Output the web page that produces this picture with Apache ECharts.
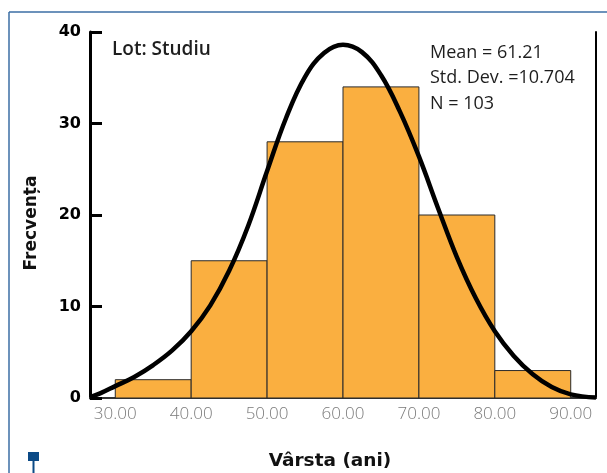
<!DOCTYPE html>
<html>
<head>
<meta charset="utf-8">
<script src="https://cdn.jsdelivr.net/npm/echarts@6/dist/echarts.min.js"></script>
<style>
	html, body { margin: 0; padding: 0; background: #fff; }
	#main { width: 607px; height: 473px; }
</style>
</head>
<body>
<div id="main"></div>
<script>
// histograma: limitele claselor si frecventele
var binStart = [30, 40, 50, 60, 70, 80];
var binEnd = [40, 50, 60, 70, 80, 90];
var binCount = [2, 15, 28, 34, 20, 3];
// curba normala (varsta, frecventa)
var curveX = [26.67, 28, 30, 32.5, 35, 37.5, 40, 42.5, 45, 47.5, 50, 52.5, 55, 57.5, 60, 62.5, 65, 67.5, 70, 72.5, 75, 77.5, 80, 82.5, 85, 87.5, 90, 93.33];
var curveY = [0.1, 0.5, 1.3, 2.3, 3.6, 5.2, 7.3, 10.1, 13.9, 18.8, 24.8, 30.6, 35.1, 37.7, 38.6, 37.8, 35.3, 31.3, 26.4, 20.8, 15.4, 10.9, 7.3, 4.6, 2.6, 1.2, 0.4, 0.05];
var xTicks = [30, 40, 50, 60, 70, 80, 90];
var statsText = ['Mean = 61.21', 'Std. Dev. =10.704', 'N = 103'];

var chart = {};

init();

function init() {
	var dom = document.getElementById('main');
	chart = echarts.init(dom, null, { renderer: 'canvas' });

	var bins = [];
	for (var i = 0; i < binStart.length; i++) {
		bins.push([binStart[i], binEnd[i], binCount[i]]);
	}
	var curve = [];
	for (var j = 0; j < curveX.length; j++) {
		curve.push([curveX[j], curveY[j]]);
	}

	var option = {
		animation: false,
		textStyle: { fontFamily: '"Open Sans", "Noto Sans", sans-serif' },
		title: [
			{
				text: 'Lot: Studiu',
				left: 107, top: 35,
				textStyle: { fontSize: 19, fontWeight: 600, color: '#1e1e1e' }
			},
			{
				text: statsText.join('\n'),
				left: 425, top: 35,
				textStyle: { fontSize: 18, fontWeight: 400, color: '#1e1e1e', lineHeight: 25.5 }
			},
			{
				text: 'Vârsta (ani)',
				left: 325, top: 447, textAlign: 'center',
				textStyle: { fontSize: 18.5, fontWeight: 'bold', color: '#111', fontFamily: '"DejaVu Sans", sans-serif' }
			}
		],
		grid: { left: 90, right: 11, top: 32, bottom: 75 },
		xAxis: {
			type: 'value',
			min: 26.67,
			max: 93.33,
			splitLine: { show: false },
			axisTick: { show: false },
			axisLine: { lineStyle: { color: '#333', width: 2 } },
			axisLabel: {
				customValues: xTicks,
				formatter: function (v) { return v.toFixed(2); },
				color: '#7a7a7a',
				fontSize: 17,
				fontWeight: 300,
				margin: 8
			}
		},
		yAxis: [
			{
				type: 'value',
				min: 0, max: 40, interval: 10,
				name: 'Frecvența',
				nameLocation: 'middle',
				nameGap: 50,
				nameTextStyle: { fontSize: 17, fontWeight: 'bold', color: '#111', fontFamily: '"DejaVu Sans", sans-serif', padding: [0, 16, 0, 0] },
				splitLine: { show: false },
				axisLine: { show: true, lineStyle: { color: '#000', width: 3 } },
				axisTick: { show: true, inside: true, length: 12, lineStyle: { color: '#000', width: 3 } },
				axisLabel: { color: '#000', fontSize: 16, fontWeight: 'bold', margin: 9, fontFamily: '"DejaVu Sans", sans-serif' }
			},
			{
				type: 'value',
				position: 'right',
				min: 0, max: 40,
				splitLine: { show: false },
				axisLine: { show: true, lineStyle: { color: '#000', width: 2 } },
				axisTick: { show: false },
				axisLabel: { show: false }
			}
		],
		graphic: [
			{ type: 'line', shape: { x1: 9, y1: 12, x2: 607, y2: 12 }, style: { stroke: '#3b6ea5', lineWidth: 1.5 } },
			{ type: 'line', shape: { x1: 9, y1: 12, x2: 9, y2: 473 }, style: { stroke: '#3b6ea5', lineWidth: 1.5 } },
			{ type: 'rect', shape: { x: 28, y: 452, width: 11, height: 9 }, style: { fill: '#0b4a86' } },
			{ type: 'line', shape: { x1: 33.5, y1: 460, x2: 33.5, y2: 473 }, style: { stroke: '#0b4a86', lineWidth: 2 } }
		],
		series: [
			{
				name: 'histograma',
				type: 'custom',
				renderItem: function (params, api) {
					var p0 = api.coord([api.value(0), 0]);
					var p1 = api.coord([api.value(1), api.value(2)]);
					return {
						type: 'rect',
						shape: { x: p0[0], y: p1[1], width: p1[0] - p0[0], height: p0[1] - p1[1] },
						style: { fill: '#FAAF40', stroke: '#2a2a2a', lineWidth: 1 }
					};
				},
				encode: { x: [0, 1], y: 2 },
				data: bins,
				z: 2
			},
			{
				name: 'normala',
				type: 'line',
				data: curve,
				smooth: 0.4,
				showSymbol: false,
				lineStyle: { color: '#000', width: 4.5 },
				z: 5
			}
		]
	};
	chart.setOption(option);
}
</script>
</body>
</html>
